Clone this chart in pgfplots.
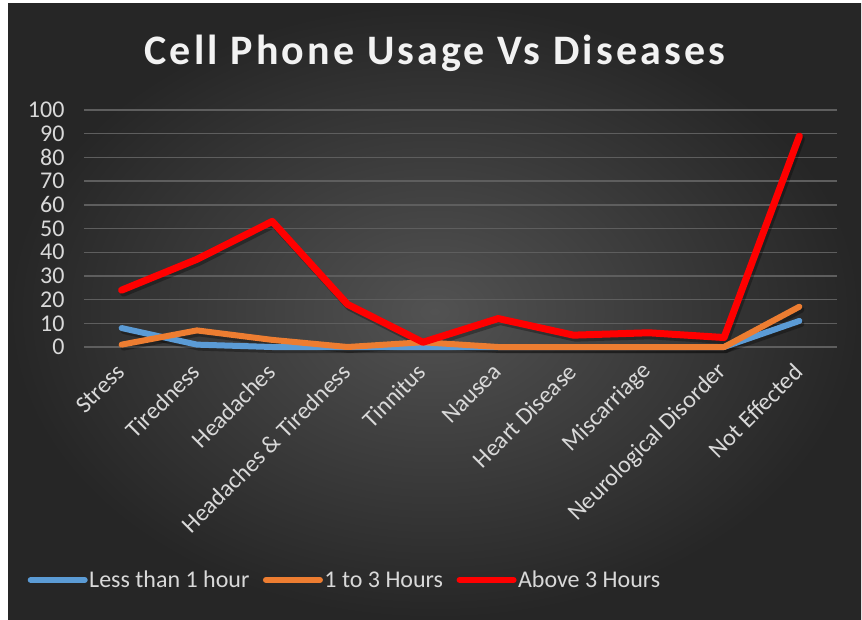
\documentclass[border=0pt]{standalone}
\usepackage{pgfplots}
\pgfplotsset{compat=1.18}
\usepackage{fontspec}
\setmainfont{Carlito}
\definecolor{sblue}{HTML}{5B9BD5}
\definecolor{sorange}{HTML}{ED7D31}
\definecolor{sred}{HTML}{FF0000}
\definecolor{gridc}{HTML}{5E5E5E}
\definecolor{lbl}{HTML}{D9D9D9}
\definecolor{bgin}{HTML}{525252}
\definecolor{bgout}{HTML}{262626}
\begin{document}
\begin{tikzpicture}[x=1pt,y=1pt]
\fill[white] (0,0) rectangle (862,619);
\shade[inner color=bgin, outer color=bgout] (8,0) rectangle (861,615);
\node[font=\fontsize{42}{42}\selectfont\bfseries\addfontfeature{LetterSpace=7.5}, text=white!95!black] at (435,566) {Cell Phone Usage Vs Diseases};
\begin{axis}[
  at={(84pt,272pt)}, anchor=south west, scale only axis,
  width=753pt, height=237pt,
  xmin=-0.5, xmax=9.5, ymin=0, ymax=100,
  ytick={0,10,...,100}, xtick={0,...,9},
  xticklabels={Stress,Tiredness,Headaches,{Headaches \& Tiredness},Tinnitus,Nausea,{Heart Disease},Miscarriage,{Neurological Disorder},{Not Effected}},
  axis line style={draw=none}, major tick length=0pt,
  ymajorgrids, grid style={gridc, line width=1.4pt},
  clip=false,
  /pgf/number format/assume math mode=true,
  yticklabel style={font=\fontsize{24}{24}\selectfont, text=lbl, xshift=-16pt},
  xticklabel style={xshift=-1pt, yshift=-21pt, rotate=45, anchor=east, font=\fontsize{24}{24}\selectfont, text=lbl, inner sep=0pt},
  legend style={at={(-0.079,-0.983)}, anchor=west, draw=none, fill=none, legend columns=-1,
    font=\fontsize{24}{24}\selectfont, text=lbl,
    /tikz/every even column/.append style={column sep=12pt},
    nodes={inner sep=1.5pt}},
  legend image code/.code={\draw[#1, line width=6pt, line cap=round] (0pt,0pt) -- (54pt,0pt);},
  every axis plot/.append style={line width=6pt, line cap=round, line join=round},
]
\addplot[black, opacity=0.3, xshift=2pt, yshift=-3pt, forget plot] coordinates {(0,8) (1,1) (2,0) (3,0) (4,0) (5,0) (6,0) (7,0) (8,0) (9,11)};
\addplot[black, opacity=0.3, xshift=2pt, yshift=-3pt, forget plot] coordinates {(0,1) (1,7) (2,3) (3,0) (4,2) (5,0) (6,0) (7,0) (8,0) (9,17)};
\addplot[black, opacity=0.3, xshift=2pt, yshift=-3pt, forget plot, line width=7pt] coordinates {(0,24) (1,37) (2,53) (3,18) (4,2) (5,12) (6,5) (7,6) (8,4) (9,89)};
\addplot[sblue] coordinates {(0,8) (1,1) (2,0) (3,0) (4,0) (5,0) (6,0) (7,0) (8,0) (9,11)};
\addplot[sorange] coordinates {(0,1) (1,7) (2,3) (3,0) (4,2) (5,0) (6,0) (7,0) (8,0) (9,17)};
\addplot[sred, line width=7pt] coordinates {(0,24) (1,37) (2,53) (3,18) (4,2) (5,12) (6,5) (7,6) (8,4) (9,89)};
\legend{Less than 1 hour, 1 to 3 Hours, Above 3 Hours}
\end{axis}
\end{tikzpicture}
\end{document}
